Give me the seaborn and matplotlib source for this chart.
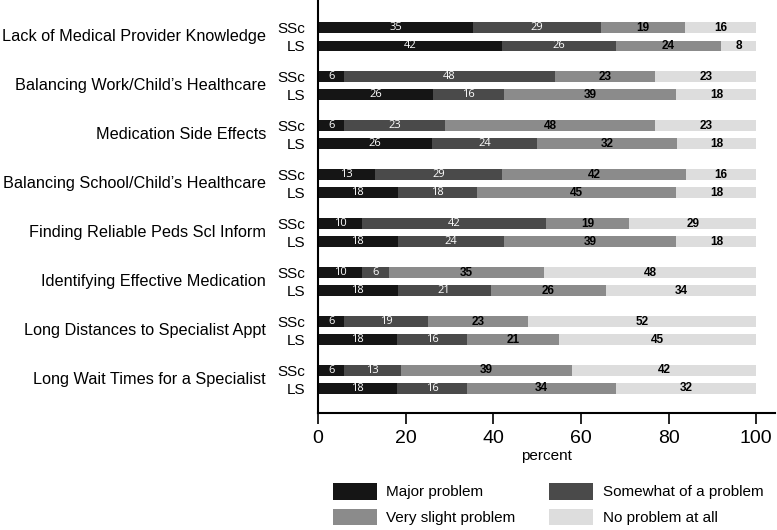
import matplotlib
matplotlib.use("Agg")
import pandas as pd
import matplotlib.pyplot as plt
from matplotlib.patches import Patch
import seaborn as sns

# Datos
items = [
    "Lack of Medical Provider Knowledge",
    "Balancing Work/Child\u2019s Healthcare",
    "Medication Side Effects",
    "Balancing School/Child\u2019s Healthcare",
    "Finding Reliable Peds Scl Inform",
    "Identifying Effective Medication",
    "Long Distances to Specialist Appt",
    "Long Wait Times for a Specialist",
]
groups = ["SSc", "LS"]
levels = ["Major problem", "Somewhat of a problem", "Very slight problem", "No problem at all"]
colors = ["#151515", "#4a4a4a", "#8b8b8b", "#dddddd"]

ssc_major = [35, 6, 6, 13, 10, 10, 6, 6]
ssc_somewhat = [29, 48, 23, 29, 42, 6, 19, 13]
ssc_slight = [19, 23, 48, 42, 19, 35, 23, 39]
ssc_none = [16, 23, 23, 16, 29, 48, 52, 42]

ls_major = [42, 26, 26, 18, 18, 18, 18, 18]
ls_somewhat = [26, 16, 24, 18, 24, 21, 16, 16]
ls_slight = [24, 39, 32, 45, 39, 26, 21, 34]
ls_none = [8, 18, 18, 18, 18, 34, 45, 32]

# Tabla larga
rows = []
for g, vals in [("SSc", [ssc_major, ssc_somewhat, ssc_slight, ssc_none]),
                ("LS", [ls_major, ls_somewhat, ls_slight, ls_none])]:
    for i, item in enumerate(items):
        row = [v[i] for v in vals]
        total = sum(row)
        cum = 0
        for k, lev in enumerate(levels):
            pct = row[k] / total * 100
            cum += pct
            rows.append({"item": item, "group": g, "level": k, "value": row[k],
                         "pct": pct, "cum": cum})
df = pd.DataFrame(rows)

sns.set_style("ticks")
plt.rcParams["font.family"] = ["Liberation Sans", "DejaVu Sans"]
plt.rcParams["text.color"] = "black"
plt.rcParams["axes.labelcolor"] = "black"
plt.rcParams["xtick.color"] = "black"
plt.rcParams["ytick.color"] = "black"

fig = plt.figure(figsize=(7.77, 5.30), dpi=100)
ax = fig.add_axes([318 / 777, 117 / 530, 457 / 777, 413 / 530])

w = 0.736
for k in reversed(range(4)):
    sub = df[df["level"] == k]
    sns.barplot(data=sub, y="item", x="cum", hue="group", order=items,
                hue_order=groups, orient="h", palette=[colors[k]] * 2,
                width=w, gap=0.39, dodge=True, legend=False, saturation=1,
                linewidth=0, ax=ax)

# Etiquetas de los segmentos
for _, r in df.iterrows():
    y = items.index(r["item"]) + (-w / 4 if r["group"] == "SSc" else w / 4)
    x = r["cum"] - r["pct"] / 2
    if r["level"] < 2:
        ax.text(x, y, str(r["value"]), ha="center", va="center", color="white",
                fontsize=8, family=["Open Sans", "DejaVu Sans"])
    else:
        ax.text(x, y, str(r["value"]), ha="center", va="center", color="black",
                fontsize=8.5, fontweight="bold")

ax.set_xlim(0, 104.3)
ax.set_ylim(7.685, -0.756)

ticks = []
labels = []
for i in range(len(items)):
    ticks += [i - w / 4, i + w / 4]
    labels += groups
ax.set_yticks(ticks)
ax.set_yticklabels(labels, fontsize=11)
ax.tick_params(axis="y", length=0, pad=9)

for i, item in enumerate(items):
    ax.annotate(item, xy=(0, i), xycoords=("axes fraction", "data"),
                xytext=(-52, 0), textcoords="offset pixels",
                ha="right", va="center", fontsize=11.7)

ax.set_xticks([0, 20, 40, 60, 80, 100])
ax.tick_params(axis="x", length=8, width=1.2, labelsize=14, pad=4)
ax.set_xlabel("percent", fontsize=11, labelpad=2)
ax.set_ylabel("")
for s in ["top", "right"]:
    ax.spines[s].set_visible(False)
for s in ["left", "bottom"]:
    ax.spines[s].set_color("black")
    ax.spines[s].set_linewidth(1.5)

order = [0, 2, 1, 3]
handles = [Patch(facecolor=colors[k], edgecolor="none") for k in order]
fig.legend(handles, [levels[k] for k in order], ncol=2, loc="upper left",
           bbox_to_anchor=(333 / 777, 47 / 530), frameon=False,
           fontsize=11, borderpad=0, handlelength=2.85, handleheight=1.3,
           handletextpad=0.65, columnspacing=2.2, labelspacing=0.6,
           borderaxespad=0)

fig.savefig("out.png", dpi=100)
